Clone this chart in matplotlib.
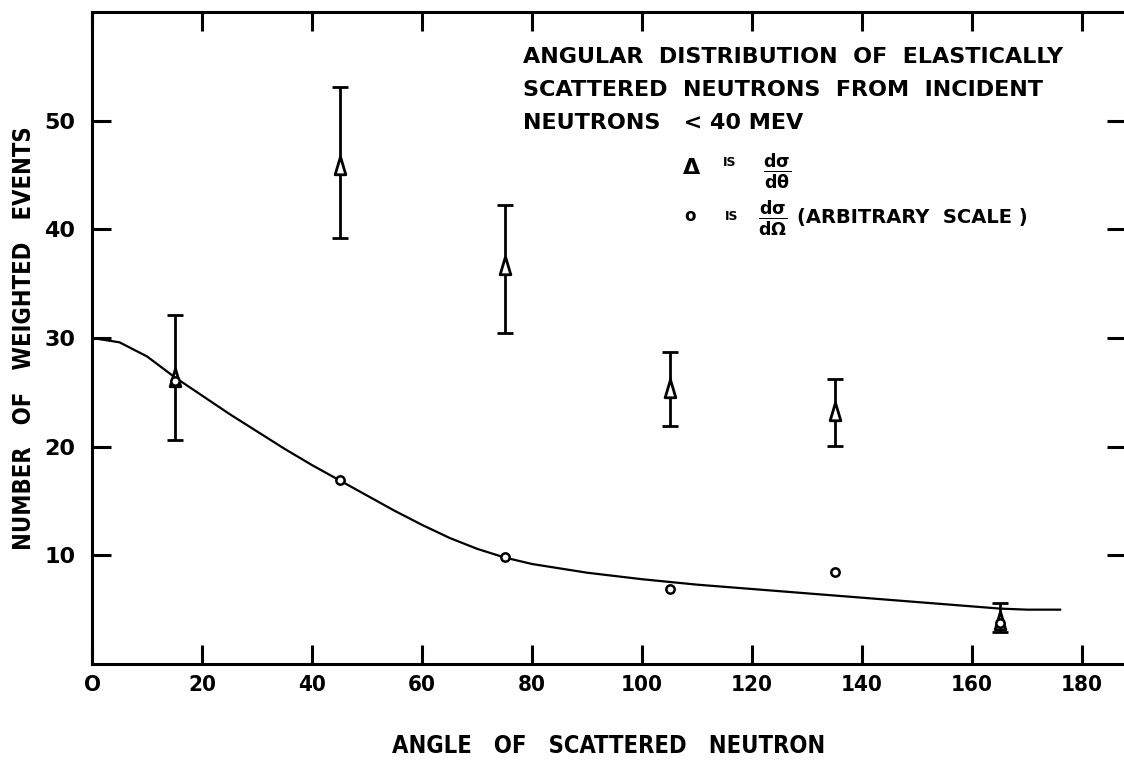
"""
Angular distribution of elastically scattered neutrons.

Recreates a scanned report figure: dsigma/dtheta points with error bars,
dsigma/dOmega points (arbitrary scale) and a hand-drawn smooth curve.
"""

import matplotlib

matplotlib.use("Agg")
import matplotlib.pyplot as plt
from matplotlib.path import Path

# Scattering angles of the measured points (degrees)
angles = [15, 45, 75, 105, 135, 165]

# d(sigma)/d(theta) – triangles, with lower / upper ends of the error bars
dsig_dtheta = [26.3, 45.8, 36.6, 25.3, 23.2, 4.0]
err_low = [20.6, 39.2, 30.5, 21.9, 20.1, 2.9]
err_high = [32.1, 53.1, 42.2, 28.7, 26.2, 5.6]

# d(sigma)/d(Omega) – open circles (arbitrary scale)
dsig_domega = [26.0, 16.9, 9.8, 6.9, 8.5, 3.8]

# Smooth curve drawn through the circles
curve_x = [0, 5, 10, 15, 20, 25, 30, 35, 40, 45, 50, 55, 60, 65, 70, 75,
           80, 90, 100, 110, 120, 130, 140, 150, 160, 165, 170, 176]
curve_y = [30.0, 29.6, 28.3, 26.4, 24.7, 23.0, 21.4, 19.8, 18.3, 16.9, 15.5,
           14.1, 12.8, 11.6, 10.6, 9.8, 9.2, 8.4, 7.8, 7.3, 6.9, 6.5, 6.1,
           5.7, 5.3, 5.1, 5.0, 5.0]

x_ticks = [0, 20, 40, 60, 80, 100, 120, 140, 160, 180]
x_tick_labels = ["O", "20", "40", "60", "80", "100", "120", "140", "160", "180"]
y_ticks = [10, 20, 30, 40, 50]
y_tick_labels = ["10", "20", "30", "40", "50"]

title_lines = [
    "ANGULAR  DISTRIBUTION  OF  ELASTICALLY",
    "SCATTERED  NEUTRONS  FROM  INCIDENT",
    "NEUTRONS   < 40 MEV",
]


def draw_chart() -> None:
    """Draw the whole figure and save it as out.png."""
    plt.rcParams["font.family"] = ["DejaVu Sans"]
    plt.rcParams["font.weight"] = "bold"
    plt.rcParams["mathtext.fontset"] = "dejavusans"
    plt.rcParams["mathtext.default"] = "bf"

    fig = plt.figure(figsize=(11.24, 7.67), dpi=100)
    # axes run off the right edge of the scan, so no right spine is seen
    ax = fig.add_axes([0.0819, 0.1343, 0.9200, 0.8501])

    # error bars first, then the open triangles on top
    yerr = [
        [v - lo for v, lo in zip(dsig_dtheta, err_low)],
        [hi - v for v, hi in zip(dsig_dtheta, err_high)],
    ]
    ax.errorbar(angles, dsig_dtheta, yerr=yerr, fmt="none", ecolor="black",
                elinewidth=2.0, capsize=6, capthick=2.0, zorder=2)
    tri = Path([(0, 1), (-0.55, -0.85), (0.55, -0.85), (0, 1)], closed=True)
    ax.plot(angles, dsig_dtheta, linestyle="none", marker=tri, markersize=14,
            markerfacecolor="white", markeredgecolor="black",
            markeredgewidth=2.0, zorder=3)

    ax.plot(curve_x, curve_y, color="black", linewidth=1.6, zorder=2)
    ax.plot(angles, dsig_domega, linestyle="none", marker="o", markersize=6,
            markerfacecolor="white", markeredgecolor="black",
            markeredgewidth=1.8, zorder=4)

    ax.set_xlim(0, 188)
    ax.set_ylim(0, 60)

    for side in ["left", "bottom", "top"]:
        ax.spines[side].set_linewidth(2.2)
    ax.spines["right"].set_visible(False)

    ax.set_xticks(x_ticks)
    ax.set_xticklabels(x_tick_labels, fontsize=16, fontstretch="condensed")
    ax.set_yticks(y_ticks)
    ax.set_yticklabels(y_tick_labels, fontsize=16)
    ax.tick_params(axis="both", direction="in", length=14, width=2.2,
                   top=True, right=True)
    ax.tick_params(axis="x", pad=8)
    ax.tick_params(axis="y", pad=12)

    ax.set_xlabel("ANGLE   OF   SCATTERED   NEUTRON", fontsize=17,
                  fontweight="bold", fontstretch="condensed", labelpad=28)
    ax.set_ylabel("NUMBER   OF   WEIGHTED   EVENTS", fontsize=17,
                  fontweight="bold", fontstretch="condensed", labelpad=6)

    # title block inside the plot, positioned in pixel terms of the scan
    for i, line in enumerate(title_lines):
        fig.text(523 / 1124, 1 - (57 + 33 * i) / 767, line, fontsize=16,
                 va="center", ha="left")

    # key for the two kinds of points
    fig.text(692 / 1124, 1 - 168 / 767, "Δ", fontsize=16,
             ha="center", va="center")
    fig.text(730 / 1124, 1 - 163 / 767, "IS", fontsize=9,
             ha="center", va="center")
    fig.text(777 / 1124, 1 - 171 / 767, r"$\frac{d\sigma}{d\theta}$",
             fontsize=18, ha="center", va="center")
    fig.text(690 / 1124, 1 - 216 / 767, "o", fontsize=12,
             ha="center", va="center")
    fig.text(732 / 1124, 1 - 216 / 767, "IS", fontsize=9,
             ha="center", va="center")
    fig.text(773 / 1124, 1 - 218 / 767, r"$\frac{d\sigma}{d\Omega}$",
             fontsize=18, ha="center", va="center")
    fig.text(797 / 1124, 1 - 217 / 767, "(ARBITRARY  SCALE )", fontsize=14,
             ha="left", va="center")

    fig.savefig("out.png", dpi=100)


def main() -> None:
    """Build the chart."""
    draw_chart()


if __name__ == "__main__":
    main()
